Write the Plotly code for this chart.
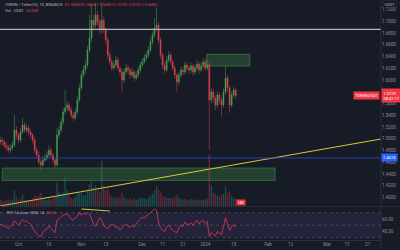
import pandas as pd
import plotly.graph_objects as go

# ---------------- data ----------------
start_date = "2023-09-22"
first_open = 1.4950
close = [1.4980,1.4946,1.4895,1.4861,1.4810,1.4844,1.4895,1.5150,1.5065,1.4980,
         1.5116,1.5235,1.5150,1.5184,1.5116,1.5065,1.4980,1.4810,1.4725,1.4606,
         1.4555,1.4640,1.4674,1.4725,1.4810,1.4725,1.4640,1.4555,1.5065,1.5150,
         1.5286,1.5456,1.5524,1.5575,1.5490,1.5405,1.5354,1.5456,1.5660,1.5864,
         1.6085,1.6170,1.6255,1.6510,1.6714,1.7020,1.6935,1.7105,1.6986,1.6850,
         1.7020,1.6850,1.6680,1.6425,1.6306,1.6204,1.6255,1.6340,1.6204,1.6136,
         1.6000,1.6136,1.6204,1.6170,1.6085,1.6136,1.6034,1.6085,1.6170,1.6255,
         1.6306,1.6374,1.6425,1.6510,1.6646,1.6765,1.6884,1.6935,1.6680,1.6425,
         1.6255,1.6170,1.6340,1.6425,1.6306,1.6204,1.6085,1.5966,1.6085,1.6170,
         1.6136,1.6255,1.6204,1.6170,1.6238,1.6136,1.6204,1.6272,1.6170,1.6238,
         1.6306,1.6204,1.6255,1.5660,1.5796,1.5694,1.5575,1.5745,1.5660,1.5575,
         1.5796,1.6034,1.5864,1.5575,1.5745,1.5830,1.5729]
high = [1.5040,1.5030,1.4990,1.4950,1.4900,1.4900,1.4960,1.5405,1.5220,1.5100,
        1.5180,1.5354,1.5280,1.5260,1.5230,1.5160,1.5100,1.5020,1.4850,1.4780,
        1.4650,1.4700,1.4730,1.4790,1.4895,1.4850,1.4760,1.4680,1.5184,1.5230,
        1.5350,1.5520,1.5830,1.5650,1.5620,1.5540,1.5450,1.5520,1.5720,1.5930,
        1.6150,1.6250,1.6330,1.6580,1.7105,1.7275,1.7120,1.7310,1.7170,1.7040,
        1.7326,1.7080,1.6900,1.6730,1.6480,1.6360,1.6320,1.6420,1.6390,1.6250,
        1.6180,1.6200,1.6280,1.6260,1.6220,1.6200,1.6180,1.6150,1.6230,1.6310,
        1.6370,1.6440,1.6490,1.6580,1.6710,1.6830,1.7054,1.7224,1.6990,1.6720,
        1.6470,1.6300,1.6400,1.6490,1.6470,1.6350,1.6250,1.6120,1.6140,1.6230,
        1.6220,1.6310,1.6300,1.6250,1.6300,1.6280,1.6260,1.6340,1.6310,1.6300,
        1.6370,1.6350,1.6340,1.6300,1.5860,1.5850,1.5740,1.5810,1.5790,1.5710,
        1.5860,1.6238,1.6080,1.5900,1.5800,1.5880,1.5860]
low = [1.4900,1.4890,1.4840,1.4800,1.4760,1.4770,1.4800,1.4860,1.5000,1.4920,
       1.4940,1.5080,1.5100,1.5100,1.5060,1.5000,1.4920,1.4760,1.4670,1.4560,
       1.4470,1.4520,1.4600,1.4630,1.4690,1.4680,1.4590,1.4504,1.4530,1.5020,
       1.5110,1.5240,1.5410,1.5470,1.5440,1.5350,1.5300,1.5320,1.5420,1.5620,
       1.5820,1.6030,1.6110,1.6210,1.6460,1.6650,1.6860,1.6880,1.6920,1.6780,
       1.6800,1.6790,1.6620,1.6360,1.6250,1.6150,1.6160,1.6210,1.6150,1.6080,
       1.5779,1.5950,1.6090,1.6110,1.6030,1.6040,1.5980,1.5990,1.6040,1.6120,
       1.6210,1.6260,1.6330,1.6380,1.6470,1.6600,1.6720,1.6840,1.6620,1.6360,
       1.6190,1.6110,1.6130,1.6290,1.6250,1.6150,1.6030,1.5796,1.5920,1.6040,
       1.6080,1.6090,1.6150,1.6110,1.6120,1.6080,1.6090,1.6160,1.6110,1.6130,
       1.6190,1.6150,1.6160,1.4810,1.5600,1.5620,1.5490,1.5530,1.5600,1.5371,
       1.5530,1.5750,1.5800,1.5439,1.5530,1.5700,1.5680]
volume_k = [12,10,9,11,13,10,12,30,18,12,14,22,13,11,10,12,14,20,18,22,
            25,16,12,11,14,12,15,19,45,28,24,26,55,30,20,15,14,18,24,28,
            26,22,20,30,42,48,35,40,30,26,88,40,30,34,24,18,16,15,18,16,
            26,18,14,13,15,12,14,12,13,15,16,15,14,16,20,24,30,40,32,26,
            20,18,16,15,16,14,18,22,16,13,12,14,12,11,13,12,11,12,13,11,
            12,12,14,100,40,26,24,20,18,22,24,38,26,28,20,16,14]
rsi = [52,50,48,47, 45,48,50,57,54, 50,55,59,56,57, 54,51,46,40,37, 33,31,38,42,
       44,49,45,41,38, 58,60,63,66,67, 68,64,60,58,62, 64,71,66,69,67, 70,68,60,52,48,
       55,62,58,50,46, 44,48,52,50,46, 48,42,45,50,52, 49,46,50,47,52, 56,60,63,61,65,
       67,70,72,76,74, 55,46,42,40,47, 50,46,42,40,38, 46,50,48,55,52, 50,54,50,55,58,
       52,56,58,53,56, 32,38,36,33,40, 38,35,48,62,52, 42,48,51,46]

price_ticks = [1.40,1.42,1.44,1.46,1.48,1.50,1.52,1.54,1.56,1.58,1.60,1.62,1.64,1.66,1.68,1.70,1.72]
rsi_ticks = [40, 60]
x_tick_dates = ["2023-10-01","2023-10-16","2023-11-01","2023-11-13","2023-12-01","2023-12-11",
                "2023-12-21","2024-01-01","2024-01-15","2024-02-01","2024-02-12","2024-03-01",
                "2024-03-11","2024-03-21"]
x_tick_text = ["Oct","16","Nov","13","Dec","11","21","2024","15","Feb","12","Mar","11","21"]

# drawings
level_white = 1.686
level_blue = 1.4674
zones = [("2024-01-01 16:00","2024-01-23",1.6238,1.6437),
         ("2023-09-23","2024-02-04 10:00",1.4292,1.4504)]
trend_dates = ["2023-09-21 22:00","2024-03-27 14:00"]
trend_prices = [1.3858,1.4997]
div_dates = ["2023-11-01","2023-11-15"]
div_rsi = [75.9,72.7]
x_range = ["2023-09-21 22:00","2024-03-27 14:00"]

# ---------------- build ----------------
dates = pd.date_range(start_date, periods=len(close), freq="D")
opens = [first_open] + close[:-1]
UP, DN = "#4a9f55", "#e0404f"
BG = "#171b26"
AX = "#2a2e39"
TXT = "#8a8e99"
FONT = "Roboto"

fig = go.Figure()
vcol = [("rgba(38,166,154,0.35)" if c >= o else "rgba(239,63,79,0.35)") for o, c in zip(opens, close)]
fig.add_trace(go.Bar(x=dates, y=volume_k, marker=dict(color=vcol, line_width=0),
                     xaxis="x", yaxis="y3", hoverinfo="skip"))
fig.add_trace(go.Candlestick(x=dates, open=opens, high=high, low=low, close=close,
                             increasing=dict(line=dict(color=UP, width=0.5), fillcolor=UP),
                             decreasing=dict(line=dict(color=DN, width=0.5), fillcolor=DN),
                             whiskerwidth=0, xaxis="x", yaxis="y"))
fig.add_trace(go.Scatter(x=pd.to_datetime(trend_dates), y=trend_prices, mode="lines",
                         line=dict(color="#d8c83a", width=1), xaxis="x", yaxis="y"))
fig.add_trace(go.Scatter(x=dates, y=rsi, mode="lines", line=dict(color="#e53950", width=0.8),
                         xaxis="x", yaxis="y2"))
fig.add_trace(go.Scatter(x=pd.to_datetime(div_dates), y=div_rsi, mode="lines",
                         line=dict(color="#d8c83a", width=1), xaxis="x", yaxis="y2"))

shapes = []
shapes.append(dict(type="line", xref="x domain", x0=0, x1=1, yref="y", y0=level_white, y1=level_white,
                   line=dict(color="#b2b5be", width=1.2)))
shapes.append(dict(type="line", xref="x domain", x0=0, x1=1, yref="y", y0=level_blue, y1=level_blue,
                   line=dict(color="#2a48b0", width=0.9)))
for x0, x1, y0, y1 in zones:
    shapes.append(dict(type="rect", xref="x", x0=x0, x1=x1, yref="y", y0=y0, y1=y1,
                       fillcolor="rgba(76,175,80,0.25)", line=dict(color="rgba(76,175,80,0.55)", width=0.8),
                       layer="below"))
# RSI band
shapes.append(dict(type="rect", xref="x domain", x0=0, x1=1, yref="y2", y0=30, y1=70,
                   fillcolor="rgba(126,87,194,0.14)", line_width=0, layer="below"))
for lv in (70, 50, 30):
    shapes.append(dict(type="line", xref="x domain", x0=0, x1=1, yref="y2", y0=lv, y1=lv,
                       line=dict(color="rgba(120,123,134,0.6)", width=0.7, dash="dot")))
# pane separators
shapes.append(dict(type="line", xref="paper", x0=0, x1=1.05, yref="paper", y0=0.1396, y1=0.1396,
                   line=dict(color=AX, width=1)))
shapes.append(dict(type="line", xref="paper", x0=1, x1=1, yref="paper", y0=-0.05, y1=1,
                   line=dict(color=AX, width=1)))

last_o, last_h, last_l, last_c = opens[-1], high[-1], low[-1], close[-1]
chg = last_c - last_o
pct = chg / last_o * 100
legend1 = ("<span style='color:#b2b5be'>TOKEN / TetherUS, 1D, BINANCE</span>  "
           f"<span style='color:{DN}'>O{last_o:.4f} H{last_h:.4f} L{last_l:.4f} C{last_c:.4f} "
           f"{chg:+.4f} ({pct:+.2f}%)</span>")
legend2 = f"<span style='color:#b2b5be'>Vol · USDT</span>  <span style='color:{DN}'>{volume_k[-1]:.2f}K</span>"
rsi_leg = (f"<span style='color:#b2b5be'>RSI 14 close SMA 14</span>  "
           f"<span style='color:{DN}'>{rsi[-1]:.2f}</span>")

ann = [
    dict(xref="paper", yref="paper", x=0.008, y=1.0, xanchor="left", yanchor="top", text=legend1,
         showarrow=False, font=dict(size=4, family=FONT)),
    dict(xref="paper", yref="paper", x=0.008, y=0.975, xanchor="left", yanchor="top", text=legend2,
         showarrow=False, font=dict(size=4, family=FONT)),
    dict(xref="paper", yref="paper", x=0.012, y=0.135, xanchor="left", yanchor="top", text=rsi_leg,
         showarrow=False, font=dict(size=4, family=FONT)),
    dict(xref="paper", yref="paper", x=1.004, y=1.0, xanchor="left", yanchor="top", text="USDT",
         showarrow=False, font=dict(size=4, family=FONT, color="#b2b5be"),
         bordercolor=AX, borderwidth=0.5, borderpad=1),
    dict(xref="paper", yref="y", x=1.0, y=last_c, xanchor="left", yanchor="middle",
         text=f"{last_c:.4f}<br>08:41:17", showarrow=False, align="left",
         font=dict(size=4, family=FONT, color="white"), bgcolor="#f23645", borderpad=1.5),
    dict(xref="paper", yref="y", x=0.998, y=last_c, xanchor="right", yanchor="middle",
         text="TOKENUSDT", showarrow=False,
         font=dict(size=4, family=FONT, color="white"), bgcolor="#f23645", borderpad=1),
    dict(xref="paper", yref="y", x=1.0, y=level_blue, xanchor="left", yanchor="middle",
         text=f"{level_blue:.4f}", showarrow=False,
         font=dict(size=4, family=FONT, color="white"), bgcolor="#2962ff", borderpad=1),
    dict(xref="x", yref="y domain", x=dates[-1], y=0.0, xanchor="left", yanchor="bottom",
         text=f"{volume_k[-1]}K", showarrow=False,
         font=dict(size=3.5, family=FONT, color="white"), bgcolor="#f23645", borderpad=0.5),
]

fig.update_layout(
    width=400, height=250, margin=dict(l=0, r=19, t=0, b=10),
    paper_bgcolor=BG, plot_bgcolor=BG, showlegend=False, hovermode=False,
    font=dict(family=FONT, size=4.5, color=TXT),
    xaxis=dict(domain=[0, 1], anchor="y2", range=x_range, type="date",
               tickvals=pd.to_datetime(x_tick_dates), ticktext=x_tick_text,
               showgrid=False, zeroline=False, showline=True, linecolor=AX,
               ticks="", tickfont=dict(size=4.5, color=TXT),
               rangeslider=dict(visible=False)),
    yaxis=dict(domain=[0.1417, 1], anchor="x", side="right", range=[1.3858, 1.736],
               tickvals=price_ticks, ticktext=[f"{v:.4f}" for v in price_ticks],
               showgrid=False, zeroline=False, showline=False, ticks="",
               tickfont=dict(size=4.5, color=TXT)),
    yaxis2=dict(domain=[0, 0.1375], anchor="x", side="right", range=[26.3, 79.1],
                tickvals=rsi_ticks, ticktext=[f"{v:.2f}" for v in rsi_ticks],
                showgrid=False, zeroline=False, showline=False, ticks="",
                tickfont=dict(size=4.5, color=TXT)),
    yaxis3=dict(domain=[0.1417, 1], overlaying="y", anchor="x", range=[0, 400], visible=False),
    shapes=shapes, annotations=ann, bargap=0.3,
)

fig.write_html("out.html")
